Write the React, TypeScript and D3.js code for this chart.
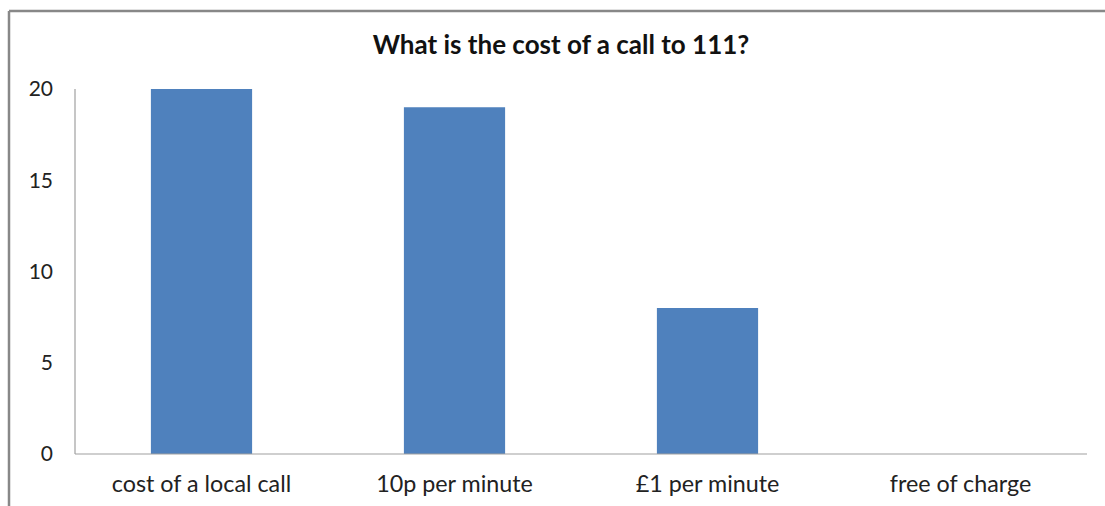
import React from 'react';
import { scaleLinear, scaleBand } from 'd3';

const categories = ['cost of a local call', '10p per minute', '£1 per minute', 'free of charge'];
const counts = [20, 19, 8, 0];
const yTicks = [0, 5, 10, 15, 20];

const W = 1105;
const H = 506;
const left = 75;
const right = 1087;
const top = 89;
const bottom = 454;
const font = 'Lato, "Open Sans", sans-serif';

const App = () => {
    const data = categories.map((c, i) => ({ cat: c, value: counts[i] }));

    const xScale = scaleBand()
        .domain(categories)
        .range([left, right])
        .paddingInner(0.6)
        .paddingOuter(0.3);

    const yScale = scaleLinear()
        .domain([0, 20])
        .range([bottom, top]);

    const bars = data.map(d => (
        <rect
            key={d.cat}
            x={xScale(d.cat)}
            y={yScale(d.value)}
            width={xScale.bandwidth()}
            height={bottom - yScale(d.value)}
            fill="#4f81bd"
        />
    ));

    const tickLabels = yTicks.map(t => (
        <text key={t} x={53} y={yScale(t)} dy="0.35em" textAnchor="end" fontSize={21} fill="#222" fontFamily={font}>
            {t}
        </text>
    ));

    const catLabels = categories.map(c => (
        <text key={c} x={(xScale(c) ?? 0) + xScale.bandwidth() / 2} y={492} textAnchor="middle" fontSize={23.3} fill="#222" fontFamily={font}>
            {c}
        </text>
    ));

    return (
        <svg width={W} height={H} style={{ position: 'absolute', left: 0, top: 0, background: '#fff' }}>
            <rect x={0} y={0} width={W} height={H} fill="#fff" />
            {/* frame */}
            <line x1={9} y1={11} x2={W} y2={11} stroke="#888" strokeWidth={2.5} />
            <line x1={9} y1={11} x2={9} y2={H} stroke="#888" strokeWidth={2.5} />
            <text x={561} y={54} textAnchor="middle" fontSize={26} fontWeight="bold" fill="#111" fontFamily={font}>
                What is the cost of a call to 111?
            </text>
            {bars}
            <line x1={left} y1={top} x2={left} y2={bottom} stroke="#a0a0a0" strokeWidth={1.2} />
            <line x1={left} y1={bottom} x2={right} y2={bottom} stroke="#a0a0a0" strokeWidth={1.2} />
            {tickLabels}
            {catLabels}
        </svg>
    );
};

export default App;
